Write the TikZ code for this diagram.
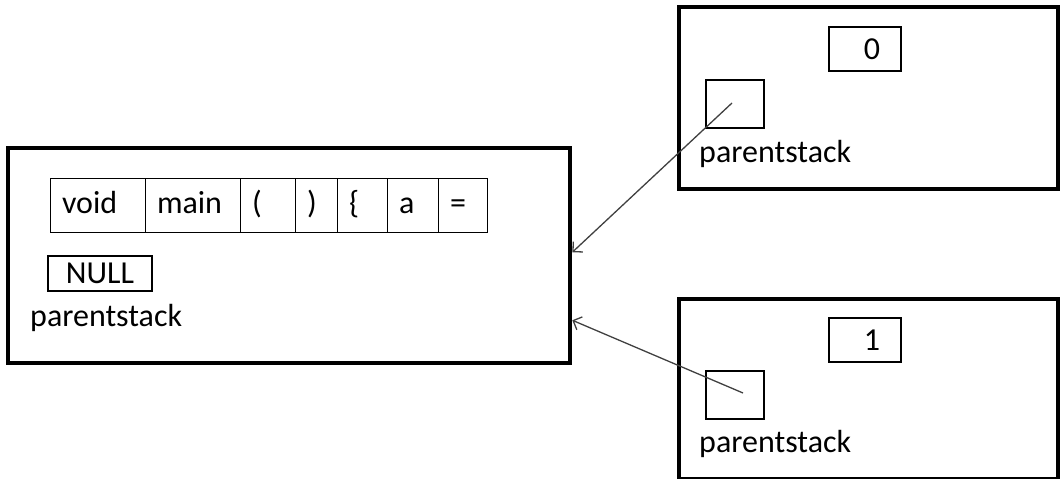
\documentclass[tikz,border=0pt]{standalone}
\usepackage{fontspec}
\setmainfont{Carlito}
\usetikzlibrary{arrows.meta}

\tikzset{
  frame/.style={draw=black, line width=4pt, fill=white, inner sep=0pt},
  cell/.style={draw=black, line width=1pt, inner sep=0pt, outer sep=0pt, anchor=north west},
  token/.style={cell, inner xsep=12pt, minimum height=54pt, align=left,
    text height=23pt, text depth=7pt},
  ptrbox/.style={cell, line width=1.2pt},
  caption/.style={anchor=base west, inner sep=0pt},
  link/.style={draw=black!75, line width=1.3pt,
    -{Straight Barb[length=7pt,width=14pt,line width=1.3pt]}},
}

\begin{document}
\begin{tikzpicture}[x=1pt, y=-1pt, font=\fontsize{32}{38}\selectfont]
  \useasboundingbox (0,0) rectangle (1061,479);

  % main frame with the token row
  \node[frame, anchor=north west, minimum width=562pt, minimum height=214.5pt] (main) at (6.3,146) {};
  \node[token, text width=71pt] (t1) at (50,178) {void};
  \node[token, text width=71pt] (t2) at (t1.north east) {main};
  \node[token, text width=31pt] (t3) at (t2.north east) {(};
  \node[token, text width=18pt] (t4) at (t3.north east) {)};
  \node[token, text width=26pt] (t5) at (t4.north east) {\{};
  \node[token, text width=27pt] (t6) at (t5.north east) {a};
  \node[token, text width=25pt] (t7) at (t6.north east) {=};
  \node[ptrbox, minimum width=104pt, minimum height=35pt] (null) at (48,256) {NULL};
  \node[caption] (mcap) at (30,326) {parentstack};

  % first child frame
  \node[frame, anchor=north west, minimum width=379pt, minimum height=182pt] (c0) at (677,5) {};
  \node[ptrbox, minimum width=72pt, minimum height=44pt] (v0) at (829,27) {\hspace*{14pt}0};
  \node[ptrbox, minimum width=58pt, minimum height=48pt] (p0) at (706,80) {};
  \node[caption] (cap0) at (699,162) {parentstack};

  % second child frame
  \node[frame, anchor=north west, minimum width=379pt, minimum height=180pt] (c1) at (677,297) {};
  \node[ptrbox, minimum width=72pt, minimum height=44pt] (v1) at (829,318) {\hspace*{14pt}1};
  \node[ptrbox, minimum width=58pt, minimum height=48pt] (p1) at (706,371) {};
  \node[caption] (cap1) at (699,452) {parentstack};

  % parent pointers
  \coordinate (s0) at (732,103);
  \coordinate (s1) at (743,393);
  \draw[link] (s0) -- ([yshift=3pt]main.east);
  \draw[link] (s1) -- ([yshift=-65pt]main.east);
\end{tikzpicture}
\end{document}
